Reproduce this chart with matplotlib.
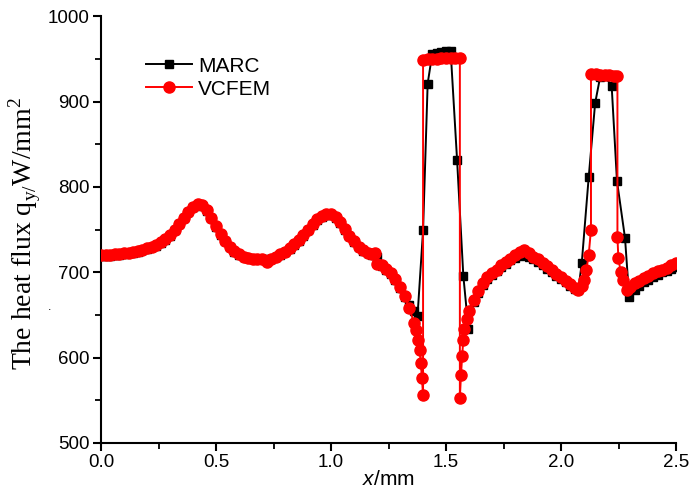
import matplotlib
matplotlib.use("Agg")
import matplotlib.pyplot as plt
from matplotlib.ticker import MultipleLocator

plt.rcParams['font.family'] = ['Liberation Sans', 'DejaVu Sans']
plt.rcParams['mathtext.fontset'] = 'custom'
plt.rcParams['mathtext.rm'] = 'Liberation Serif'
plt.rcParams['mathtext.it'] = 'Liberation Sans:italic'

# ---------------- data ----------------
marc_x = [0.00, 0.02, 0.04, 0.06, 0.08, 0.10, 0.12, 0.14, 0.16, 0.18, 0.20, 0.22, 0.24, 0.26, 0.28,
          0.30, 0.32, 0.34, 0.36, 0.38, 0.40, 0.42, 0.44, 0.46, 0.48, 0.50, 0.52, 0.54, 0.56, 0.58,
          0.60, 0.62, 0.64, 0.66, 0.68, 0.70, 0.72, 0.74, 0.76, 0.78, 0.80, 0.82, 0.84, 0.86, 0.88,
          0.90, 0.92, 0.94, 0.96, 0.98, 1.00, 1.02, 1.04, 1.06, 1.08, 1.10, 1.12, 1.14, 1.16, 1.18,
          1.20, 1.22, 1.24, 1.26, 1.28, 1.30, 1.32, 1.34, 1.36, 1.376, 1.40, 1.42, 1.44, 1.46, 1.48,
          1.50, 1.52, 1.548, 1.575, 1.597, 1.62, 1.64, 1.66, 1.68, 1.70, 1.72, 1.74, 1.76, 1.78, 1.80,
          1.82, 1.84, 1.86, 1.88, 1.90, 1.92, 1.94, 1.96, 1.98, 2.00, 2.02, 2.04, 2.06, 2.075, 2.09,
          2.12, 2.148, 2.17, 2.19, 2.22, 2.243, 2.278, 2.296, 2.32, 2.34, 2.36, 2.38, 2.40, 2.42, 2.44,
          2.46, 2.48, 2.50]
marc_y = [719, 719, 719.5, 720, 720.5, 721, 722, 723, 724, 725.5, 727, 729, 731, 734, 738,
          743, 749, 756, 763, 770, 776, 779, 778, 772, 763, 753, 744, 736, 729, 724,
          720, 717.5, 716.5, 716, 715.5, 715, 715.5, 716, 718, 720.5, 723.5, 727, 732, 737, 743,
          749, 755, 761, 765, 767, 767, 764, 758, 750, 742, 735, 729, 725, 722, 720,
          718, 707, 703, 698, 691, 682, 671, 662, 654, 649, 749, 921, 956, 957, 958,
          959, 959, 831, 696, 634, 665, 676, 685, 692, 697, 701, 706, 710, 714, 717,
          719, 720, 718, 715, 712, 708, 704, 700, 696, 692, 688, 684, 680, 679, 711,
          811, 898, 929, 930, 918, 807, 740, 671, 679, 684, 688, 691, 694, 697, 700,
          702, 704, 706]

vcfem_x = [0.00, 0.02, 0.04, 0.06, 0.08, 0.10, 0.12, 0.14, 0.16, 0.18, 0.20, 0.22, 0.24, 0.26, 0.28,
           0.30, 0.32, 0.34, 0.36, 0.38, 0.40, 0.42, 0.44, 0.46, 0.48, 0.50, 0.52, 0.54, 0.56, 0.58,
           0.60, 0.62, 0.64, 0.66, 0.68, 0.70, 0.72, 0.74, 0.76, 0.78, 0.80, 0.82, 0.84, 0.86, 0.88,
           0.90, 0.92, 0.94, 0.96, 0.98, 1.00, 1.02, 1.04, 1.06, 1.08, 1.10, 1.12, 1.14, 1.16, 1.18,
           1.19, 1.20, 1.22, 1.24, 1.26, 1.28, 1.30, 1.32, 1.34, 1.36, 1.37, 1.378, 1.385, 1.39, 1.395,
           1.40, 1.40, 1.42, 1.44, 1.46, 1.48, 1.50, 1.52, 1.54, 1.56, 1.56, 1.565, 1.57, 1.575, 1.58,
           1.59, 1.60, 1.62, 1.64, 1.66, 1.68, 1.70, 1.72, 1.74, 1.76, 1.78, 1.80, 1.82, 1.84, 1.86,
           1.88, 1.90, 1.92, 1.94, 1.96, 1.98, 2.00, 2.02, 2.04, 2.06, 2.075, 2.09, 2.10, 2.11, 2.12,
           2.13, 2.13, 2.15, 2.17, 2.19, 2.21, 2.23, 2.245, 2.245, 2.249, 2.259, 2.271, 2.286, 2.30, 2.32,
           2.34, 2.36, 2.38, 2.40, 2.42, 2.44, 2.46, 2.48, 2.50]
vcfem_y = [720, 720, 720.5, 721, 721.5, 722, 723, 724, 725, 726.5, 728, 730, 732, 735, 739,
           744, 750, 757, 764, 771, 777, 780, 779, 773, 764, 754, 745, 737, 730, 725,
           721, 718, 717, 716, 715.5, 715, 712, 716, 718, 721, 724, 728, 733, 738, 744,
           750, 756, 762, 766, 768, 768, 765, 759, 751, 743, 736, 730, 726, 723, 721,
           722, 710, 708, 704, 699, 692, 683, 672, 658, 641, 632, 620, 609, 594, 576,
           556, 949, 950, 950, 950, 950.5, 951, 951, 951, 951, 553, 580, 602, 621, 633,
           645, 655, 668, 678, 687, 694, 699, 703, 708, 712, 716, 720, 724, 726, 722,
           718, 715, 711, 707, 703, 698, 694, 690, 686, 681, 679, 684, 691, 703, 720,
           750, 932, 932, 931.5, 931, 931, 930.5, 930, 741, 717, 700, 691, 679, 683, 687,
           690, 693, 696, 699, 701, 703, 705, 708, 711]

x_ticks = [0.0, 0.5, 1.0, 1.5, 2.0, 2.5]
y_ticks = [500, 600, 700, 800, 900, 1000]

# ---------------- figure ----------------
fig = plt.figure(figsize=(6.92, 4.91), dpi=100)
ax = fig.add_axes([0.146, 0.098, 0.831, 0.869])

ax.plot(marc_x, marc_y, color='black', lw=1.4, marker='s', ms=6,
        mec='black', mfc='black', label='MARC', zorder=2)
ax.plot(vcfem_x, vcfem_y, color='#ff0000', lw=1.4, marker='o', ms=8,
        mec='#ff0000', mfc='#ff0000', label='VCFEM', zorder=3)

ax.set_xlim(0, 2.5)
ax.set_ylim(500, 1000)
ax.set_xticks(x_ticks)
ax.set_yticks(y_ticks)
ax.xaxis.set_minor_locator(MultipleLocator(0.25))
ax.yaxis.set_minor_locator(MultipleLocator(50))
ax.set_xticklabels([f"{v:.1f}" for v in x_ticks])
ax.set_yticklabels([str(v) for v in y_ticks])

for s in ['top', 'right']:
    ax.spines[s].set_visible(False)
for s in ['left', 'bottom']:
    ax.spines[s].set_linewidth(1.5)
ax.tick_params(which='major', direction='out', length=6, width=1.5, labelsize=13.5, pad=2)
ax.tick_params(which='minor', direction='out', length=4, width=1.3)
ax.patch.set_alpha(0)

ax.set_xlabel(r"$\mathit{x}$/mm", fontsize=15, labelpad=-1)
fig.text(25 / 692, 1 - 234 / 491, r"The heat flux q$_{\mathrm{y/}}$W/mm$^{\mathrm{2}}$",
         family='Liberation Serif', fontsize=20, rotation=90, ha='center', va='center')
fig.text(50 / 692, 1 - 307 / 491, ".", fontsize=9, ha='center', va='center')

leg = ax.legend(loc='upper left', bbox_to_anchor=(0.064, 0.925), frameon=False,
                fontsize=15, handlelength=2.2, handletextpad=0.3, labelspacing=0.2,
                borderaxespad=0)

fig.savefig("out.png", dpi=100)
